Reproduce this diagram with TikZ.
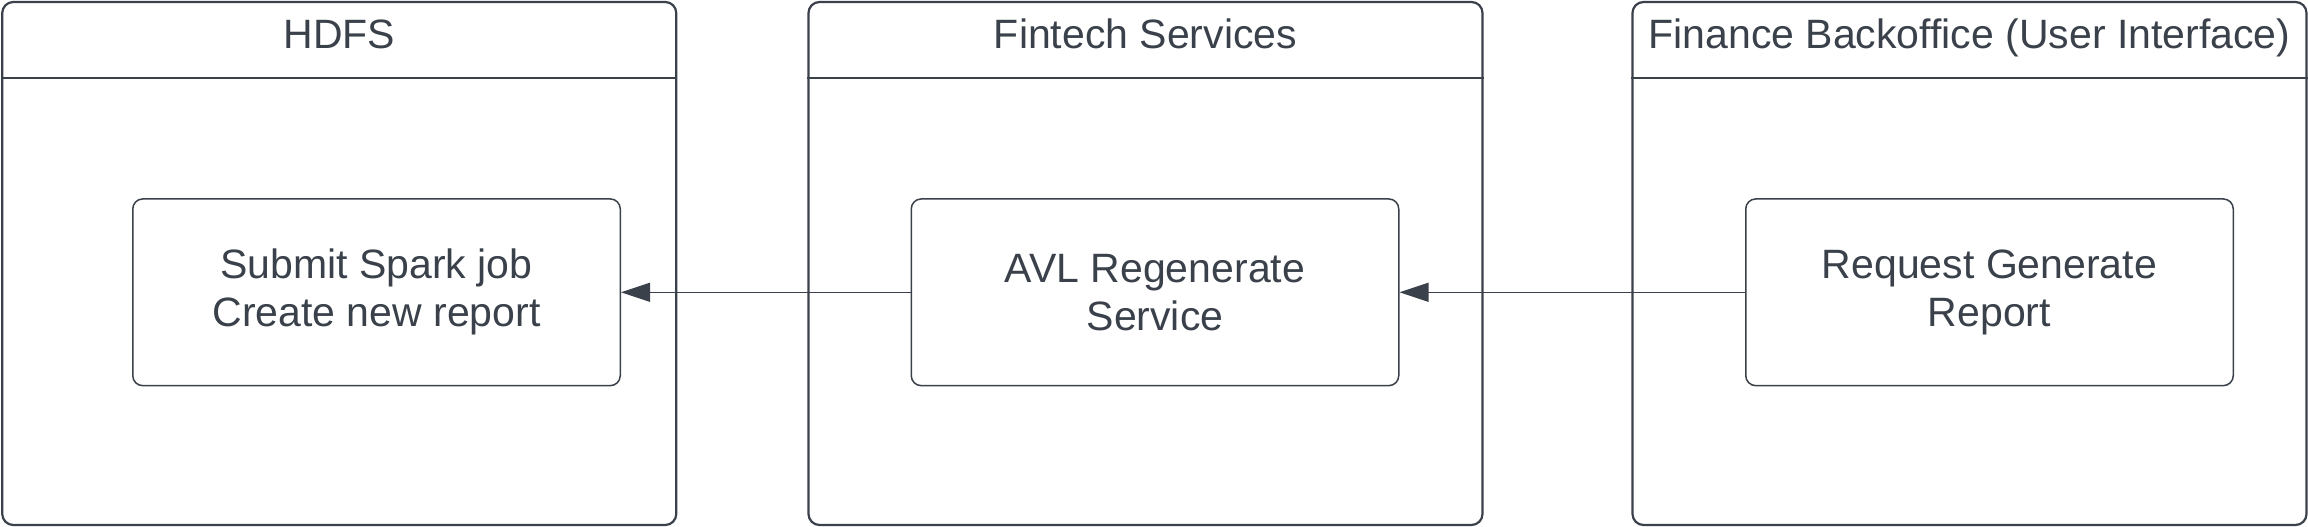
\documentclass[tikz,border=0pt]{standalone}
\usepackage{fontspec}
\setmainfont{Liberation Sans}
\usepackage{xcolor}
\usetikzlibrary{arrows.meta}
\definecolor{ink}{HTML}{3A414A}

\begin{document}
\begin{tikzpicture}[x=1pt,y=1pt,
        lane/.style={draw=ink,line width=2.2pt,rounded corners=11pt,minimum width=674pt,minimum height=523pt,inner sep=0pt},
        lanetitle/.style={text=ink,font=\fontsize{41}{48}\selectfont,anchor=base},
        task/.style={draw=ink,line width=1.5pt,rounded corners=10pt,minimum width=487.5pt,minimum height=186.7pt,inner sep=0pt,align=center,text=ink,font=\fontsize{41}{48}\selectfont}]
        \useasboundingbox (0,0) rectangle (2308,527);
        % swimlanes
        \node[lane](hdfslane) at (339.25,263.5) {};
        \node[lane](fintechlane) at (1145.5,263.5) {};
        \node[lane](backofficelane) at (1969.5,263.5) {};
        \draw[ink,line width=2.2pt]([yshift=-77.5pt]hdfslane.north west)--([yshift=-77.5pt]hdfslane.north east);
        \draw[ink,line width=2.2pt]([yshift=-77.5pt]fintechlane.north west)--([yshift=-77.5pt]fintechlane.north east);
        \draw[ink,line width=2.2pt]([yshift=-77.5pt]backofficelane.north west)--([yshift=-77.5pt]backofficelane.north east);
        \node[lanetitle](hdfs) at (339.25,478) {HDFS};
        \node[lanetitle](fintech) at (1145.5,478) {Fintech Services};
        \node[lanetitle](backoffice) at (1969.5,478) {Finance Backoffice (User Interface)};
        % tasks
        \node[task](spark) at (376.5,234.7) {Submit Spark job\\Create new report};
        \node[task](avl) at (1155,234.7) {AVL Regenerate\\Service};
        \node[task](request) at (1989.5,234.7) {Request Generate\\Report};
        \draw[ink,line width=1.5pt,-{Triangle[length=29pt,width=19pt]}](request.west)--(avl.east);
        \draw[ink,line width=1.5pt,-{Triangle[length=29pt,width=19pt]}](avl.west)--(spark.east);
        \end{tikzpicture}
\end{document}
